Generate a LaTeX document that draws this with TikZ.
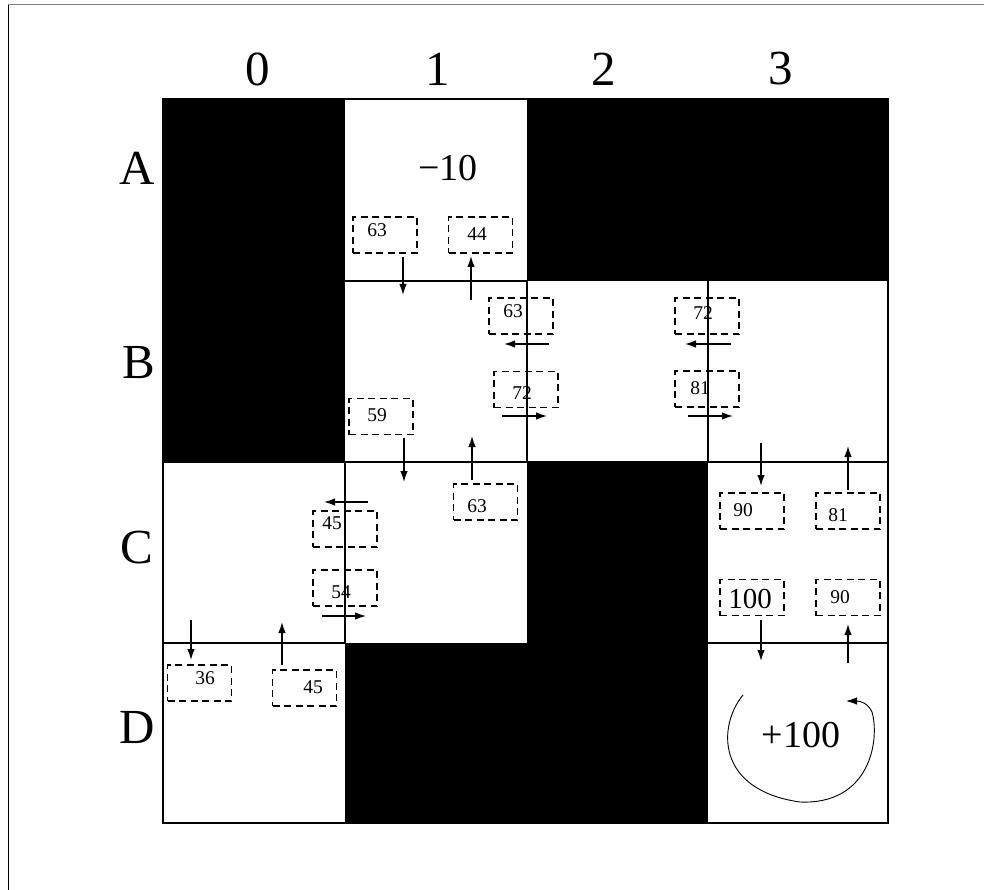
\documentclass[tikz,border=0pt]{standalone}
\usepackage{fontspec}
\setmainfont{Liberation Serif}
\usetikzlibrary{arrows.meta}
\begin{document}
\begin{tikzpicture}[x=1pt,y=-1pt,
  gridline/.style={line width=1.3pt},
  vbox/.style={draw,dash pattern=on 7pt off 4.5pt,line width=1.1pt,inner sep=0pt,minimum width=64pt,minimum height=36pt},
  val/.style={font=\fontsize{19.5}{19.5}\selectfont,inner sep=0pt},
  mv/.style={line width=1.4pt,-{Latex[length=11pt,width=7.5pt]}},
  biglab/.style={font=\fontsize{49}{49}\selectfont,inner sep=0pt},
  blackcell/.style={fill=black}]
\useasboundingbox (0,0) rectangle (984,890);
% page frame
\draw[line width=1pt,gray] (8,5) -- (984,5);
\draw[line width=1pt] (8,5) -- (8,890);
% black cells
\fill[blackcell] (163,99) rectangle (345,462);
\fill[blackcell] (527,99) rectangle (888,281);
\fill[blackcell] (527,462) rectangle (708,643);
\fill[blackcell] (345,643) rectangle (708,823);
% grid lines
\draw[gridline] (163,99) rectangle (888,823);
\draw[gridline] (345,281) -- (527,281);
\draw[gridline] (527,281) -- (527,462);
\draw[gridline] (708,281) -- (708,462);
\draw[gridline] (163,462) -- (888,462);
\draw[gridline] (345,462) -- (345,643);
\draw[gridline] (163,643) -- (345,643);
\draw[gridline] (708,643) -- (888,643);
% column and row labels
\node[biglab] (c0) at (258,69) {0};
\node[biglab] (c1) at (438,69) {1};
\node[biglab] (c2) at (604,69) {2};
\node[biglab] (c3) at (781,69) {3};
\node[biglab] (rA) at (137,168) {A};
\node[biglab] (rB) at (139,363) {B};
\node[biglab] (rC) at (137,548) {C};
\node[biglab] (rD) at (137,727) {D};
% rewards
\node[font=\fontsize{38}{38}\selectfont,inner sep=0pt] (rew1) at (448,168) {−10};
\node[font=\fontsize{38}{38}\selectfont,inner sep=0pt] (rew2) at (801,735) {+100};
% value boxes
\node[vbox] (b1) at (385,235) {};
\node[vbox] (b2) at (480.5,235) {};
\node[vbox] (b3) at (521,316) {};
\node[vbox] (b4) at (526,389.5) {};
\node[vbox] (b5) at (707,316) {};
\node[vbox] (b6) at (707,389) {};
\node[vbox] (b7) at (381,416.5) {};
\node[vbox] (b8) at (485.5,502) {};
\node[vbox] (b9) at (345,529) {};
\node[vbox] (b10) at (345,588) {};
\node[vbox] (b11) at (752,511) {};
\node[vbox] (b12) at (848,511) {};
\node[vbox] (b13) at (752,597.5) {};
\node[vbox] (b14) at (848,597.5) {};
\node[vbox] (b15) at (199.5,683) {};
\node[vbox] (b16) at (304.5,688) {};
% values
\node[val] (t1) at (377,230) {63};
\node[val] (t2) at (477,234) {44};
\node[val] (t3) at (513,311) {63};
\node[val] (t4) at (522,393) {72};
\node[val] (t5) at (703,313) {72};
\node[val] (t6) at (700,388) {81};
\node[val] (t7) at (377,415) {59};
\node[val] (t8) at (477,506) {63};
\node[val] (t9) at (332,523) {45};
\node[val] (t10) at (341,592) {54};
\node[val] (t11) at (743,510) {90};
\node[val] (t12) at (838,515) {81};
\node[font=\fontsize{29}{29}\selectfont,inner sep=0pt] (t13) at (750,599) {100};
\node[val] (t14) at (840,597) {90};
\node[val] (t15) at (205,678) {36};
\node[val] (t16) at (313,687) {45};
% arrow end points
\coordinate (a1s) at (403,257);  \coordinate (a1e) at (403,295);
\coordinate (a2s) at (471,300);  \coordinate (a2e) at (471,256);
\coordinate (a3s) at (549,344);  \coordinate (a3e) at (504,344);
\coordinate (a4s) at (502,416);  \coordinate (a4e) at (547,416);
\coordinate (a5s) at (731,344);  \coordinate (a5e) at (685,344);
\coordinate (a6s) at (688,416);  \coordinate (a6e) at (733,416);
\coordinate (a7s) at (404,438);  \coordinate (a7e) at (404,482);
\coordinate (a8s) at (472,480);  \coordinate (a8e) at (472,436);
\coordinate (a9s) at (368,502);  \coordinate (a9e) at (324,502);
\coordinate (a10s) at (322,616); \coordinate (a10e) at (366,616);
\coordinate (a11s) at (761,443); \coordinate (a11e) at (761,486);
\coordinate (a12s) at (848,490); \coordinate (a12e) at (848,446);
\coordinate (a13s) at (761,620); \coordinate (a13e) at (761,661);
\coordinate (a14s) at (848,663); \coordinate (a14e) at (848,624);
\coordinate (a15s) at (191,620); \coordinate (a15e) at (191,660);
\coordinate (a16s) at (282,665); \coordinate (a16e) at (282,622);
\foreach \i in {1,...,16} {\draw[mv] (a\i s) -- (a\i e);}
% self loop at the goal
\coordinate (ls) at (743,695);
\coordinate (le) at (846,701);
\draw[line width=0.9pt,-{Latex[length=11pt,width=7.5pt]}] (ls) .. controls (718,725) and (715,790) .. (800,802)
  .. controls (870,805) and (880,740) .. (872,712)
  .. controls (868,703) and (860,701) .. (le);
\end{tikzpicture}
\end{document}
